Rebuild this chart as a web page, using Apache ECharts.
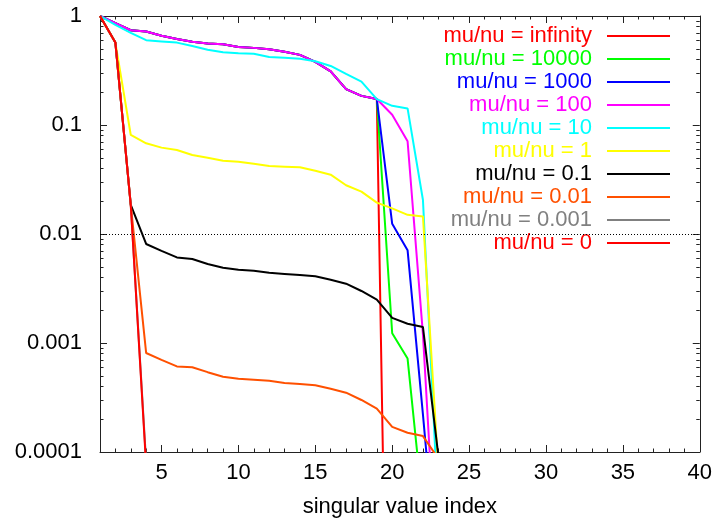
<!DOCTYPE html>
<html>
<head>
<meta charset="utf-8">
<script src="https://cdn.jsdelivr.net/npm/echarts@6/dist/echarts.min.js"></script>
<style>
  html, body { margin: 0; padding: 0; background: #fff; }
  #chart { width: 715px; height: 526px; }
</style>
</head>
<body>
<div id="chart"></div>
<script>
// Singular value index (x) for every series
const svIndex = [1, 2, 3, 4, 5, 6, 7, 8, 9, 10, 11, 12, 13, 14, 15, 16, 17, 18, 19, 20, 21, 22, 23];

// Normalised singular values, one array per mu/nu ratio
const muInfinity = [1, 0.86, 0.74, 0.72, 0.66, 0.615, 0.58, 0.56, 0.55, 0.52, 0.51, 0.495, 0.47, 0.44, 0.38, 0.31, 0.213, 0.185, 0.173, 1e-9];
const mu10000 = [1, 0.86, 0.74, 0.72, 0.66, 0.615, 0.58, 0.56, 0.55, 0.52, 0.51, 0.495, 0.47, 0.44, 0.38, 0.31, 0.213, 0.185, 0.173, 0.00123, 0.00072, 3e-5, 1e-6];
const mu1000 = [1, 0.86, 0.74, 0.72, 0.66, 0.615, 0.58, 0.56, 0.55, 0.52, 0.51, 0.495, 0.47, 0.44, 0.38, 0.31, 0.213, 0.185, 0.173, 0.0124, 0.0071, 2.2e-4, 6e-6];
const mu100 = [1, 0.86, 0.74, 0.72, 0.66, 0.615, 0.58, 0.56, 0.55, 0.52, 0.51, 0.495, 0.47, 0.44, 0.38, 0.31, 0.213, 0.185, 0.173, 0.124, 0.071, 0.0012, 4e-6];
const mu10 = [1, 0.83, 0.70, 0.60, 0.585, 0.57, 0.53, 0.49, 0.465, 0.455, 0.45, 0.42, 0.415, 0.405, 0.384, 0.348, 0.294, 0.25, 0.173, 0.15, 0.142, 0.0205, 2.7e-5];
const mu1 = [1, 0.57, 0.081, 0.068, 0.062, 0.059, 0.053, 0.050, 0.047, 0.046, 0.044, 0.042, 0.0415, 0.041, 0.038, 0.035, 0.028, 0.0245, 0.0194, 0.0172, 0.015, 0.0145, 7e-5];
const mu0p1 = [1, 0.57, 0.0185, 0.0081, 0.007, 0.0061, 0.0059, 0.0053, 0.0049, 0.0047, 0.0046, 0.0044, 0.0043, 0.0042, 0.0041, 0.0038, 0.0035, 0.0030, 0.0025, 0.0017, 0.0015, 0.0014, 9.3e-5];
const mu0p01 = [1, 0.57, 0.0185, 0.00081, 0.0007, 0.00061, 0.0006, 0.00054, 0.00049, 0.00047, 0.00046, 0.00045, 0.00043, 0.00042, 0.00041, 0.00038, 0.00035, 0.0003, 0.00025, 0.00017, 0.00015, 0.00014, 8.7e-5];
const mu0p001 = [1, 0.57, 0.0185, 8.1e-5, 7e-5, 6.1e-5, 5.9e-5, 5.3e-5, 4.9e-5, 4.7e-5, 4.6e-5, 4.4e-5, 4.3e-5, 4.2e-5, 4.1e-5, 3.8e-5, 3.5e-5, 3.0e-5, 2.5e-5, 1.7e-5, 1.5e-5, 1.4e-5, 9e-7];
const mu0 = [1, 0.57, 0.0185, 7.5e-5];

const seriesNames = ['mu/nu = infinity', 'mu/nu = 10000', 'mu/nu = 1000', 'mu/nu = 100', 'mu/nu = 10',
                     'mu/nu = 1', 'mu/nu = 0.1', 'mu/nu = 0.01', 'mu/nu = 0.001', 'mu/nu = 0'];
const seriesValues = [muInfinity, mu10000, mu1000, mu100, mu10, mu1, mu0p1, mu0p01, mu0p001, mu0];
const seriesColors = ['#ff0000', '#00ff00', '#0000ff', '#ff00ff', '#00ffff',
                      '#ffff00', '#000000', '#ff5000', '#808080', '#ff0000'];

// Axis ticks and labels
const xMajorTicks = [5, 10, 15, 20, 25, 30, 35, 40];
const xMinorTicks = [2, 3, 4, 6, 7, 8, 9, 11, 12, 13, 14, 16, 17, 18, 19, 21, 22, 23, 24, 26, 27, 28, 29, 31, 32, 33, 34, 36, 37, 38, 39];
const yMajorTicks = [0.0001, 0.001, 0.01, 0.1, 1];
const yTickLabels = ['0.0001', '0.001', '0.01', '0.1', '1'];
const yMinorTicks = [];
[0.0001, 0.001, 0.01, 0.1].forEach(function (decade) {
  for (let m = 2; m <= 9; m++) yMinorTicks.push(+(m * decade).toPrecision(3));
});
const referenceLevel = 0.01;

const FONT = "'Liberation Sans', Arial, Helvetica, sans-serif";
const AXIS_COLOR = '#222';
const MAJOR_LEN = 7;
const MINOR_LEN = 3.5;

function xAxisDef(position, ticks, len, withLine, withLabels) {
  const def = {
    type: 'value', gridIndex: 0, min: 1, max: 40, position: position,
    axisLine: { show: withLine, onZero: false, lineStyle: { color: AXIS_COLOR, width: 1 } },
    axisTick: { show: true, inside: true, length: len, customValues: ticks, lineStyle: { color: AXIS_COLOR, width: 1 } },
    axisLabel: { show: false },
    splitLine: { show: false }
  };
  if (withLabels) {
    def.axisLabel = { show: true, customValues: ticks, color: '#000', fontSize: 22, fontFamily: FONT, margin: 10 };
    def.name = 'singular value index';
    def.nameLocation = 'middle';
    def.nameGap = 44;
    def.nameTextStyle = { color: '#000', fontSize: 22, fontFamily: FONT };
  }
  return def;
}

function yAxisDef(position, ticks, len, withLine, withLabels) {
  const def = {
    type: 'log', logBase: 10, gridIndex: 0, min: 0.0001, max: 1, position: position,
    axisLine: { show: withLine, onZero: false, lineStyle: { color: AXIS_COLOR, width: 1 } },
    axisTick: { show: true, inside: true, length: len, customValues: ticks, lineStyle: { color: AXIS_COLOR, width: 1 } },
    axisLabel: { show: false },
    splitLine: { show: false }
  };
  if (withLabels) {
    def.axisLabel = {
      show: true, customValues: ticks, color: '#000', fontSize: 22, fontFamily: FONT, margin: 18,
      formatter: function (v) {
        for (let i = 0; i < yMajorTicks.length; i++) {
          if (Math.abs(Math.log10(v) - Math.log10(yMajorTicks[i])) < 1e-6) return yTickLabels[i];
        }
        return '';
      }
    };
  }
  return def;
}

const series = seriesNames.map(function (name, i) {
  const s = {
    name: name,
    type: 'line',
    xAxisIndex: 0,
    yAxisIndex: 0,
    data: seriesValues[i].map(function (v, k) { return [svIndex[k], v]; }),
    symbol: 'none',
    showSymbol: false,
    clip: true,
    color: seriesColors[i],
    lineStyle: { color: seriesColors[i], width: 2 },
    emphasis: { disabled: true }
  };
  if (i === 0) {
    s.markLine = {
      silent: true, symbol: 'none', animation: false,
      label: { show: false },
      lineStyle: { color: '#000', width: 1, type: [1, 2] },
      data: [{ yAxis: referenceLevel }]
    };
  }
  return s;
});

const chart = echarts.init(document.getElementById('chart'), null, { renderer: 'canvas' });
chart.setOption({
  animation: false,
  backgroundColor: '#fff',
  grid: { left: 100, right: 15, top: 16, bottom: 74, containLabel: false },
  xAxis: [
    xAxisDef('bottom', xMajorTicks, MAJOR_LEN, true, true),
    xAxisDef('bottom', xMinorTicks, MINOR_LEN, false, false),
    xAxisDef('top', xMajorTicks, MAJOR_LEN, true, false),
    xAxisDef('top', xMinorTicks, MINOR_LEN, false, false)
  ],
  yAxis: [
    yAxisDef('left', yMajorTicks, MAJOR_LEN, true, true),
    yAxisDef('left', yMinorTicks, MINOR_LEN, false, false),
    yAxisDef('right', yMajorTicks, MAJOR_LEN, true, false),
    yAxisDef('right', yMinorTicks, MINOR_LEN, false, false)
  ],
  legend: {
    orient: 'vertical',
    right: 40,
    top: 20,
    itemGap: 1,
    itemWidth: 63,
    itemHeight: 2,
    icon: 'rect',
    align: 'right',
    selectedMode: false,
    textStyle: { fontSize: 22, fontFamily: FONT, padding: [0, 10, 0, 0] },
    data: seriesNames.map(function (n, i) {
      return { name: n, itemStyle: { color: seriesColors[i] }, textStyle: { color: seriesColors[i] } };
    })
  },
  series: series
});
</script>
</body>
</html>
